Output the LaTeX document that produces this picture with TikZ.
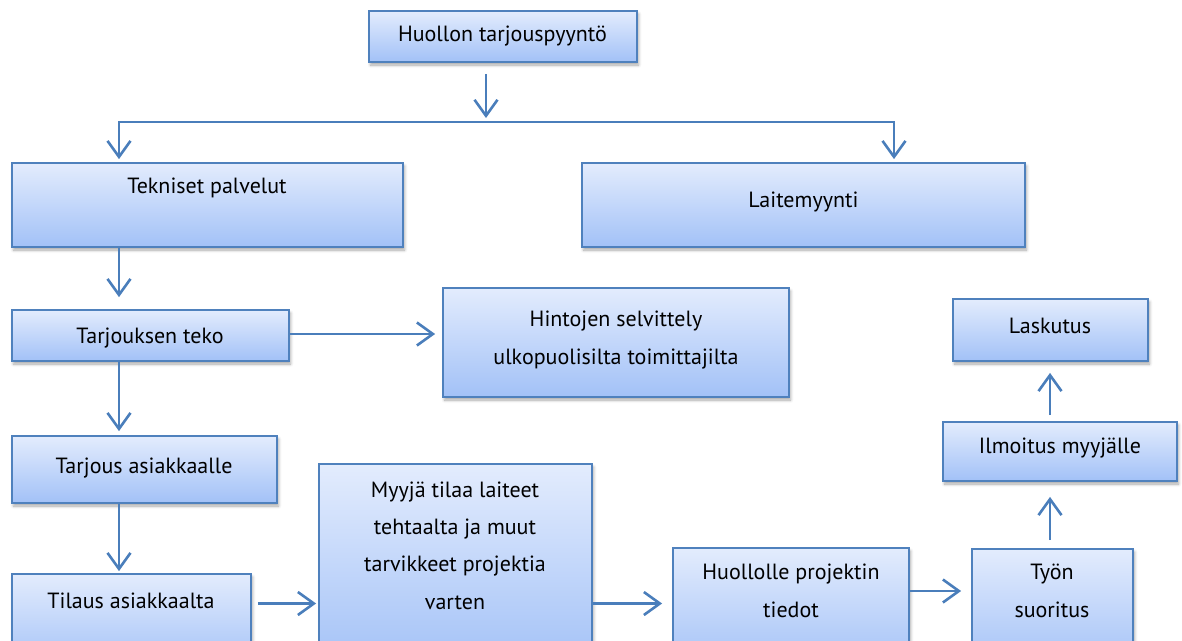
\documentclass[tikz,border=0pt]{standalone}
\usepackage{fontspec}
\setmainfont{PT Sans}
\usetikzlibrary{arrows.meta,shadows.blur}
\definecolor{edge}{HTML}{4F81BD}
\definecolor{flow}{HTML}{4A7EBB}
\definecolor{shadetop}{HTML}{E3ECFD}
\definecolor{shadebot}{HTML}{A2C1F7}
\tikzset{
  box/.style={draw=edge, line width=1.8pt, top color=shadetop, bottom color=shadebot,
    inner sep=0pt,
    blur shadow={shadow xshift=1.5pt, shadow yshift=-3pt, shadow blur steps=6,
      shadow opacity=35, shadow blur radius=3pt}},
  txt/.style={font=\fontsize{22}{37.3}\selectfont, align=center, text=black,
    inner sep=0pt, anchor=base},
  arr/.style={draw=flow, line width=2.6pt, line join=miter,
    -{Straight Barb[length=16pt,width=23pt]}},
  arrboth/.style={draw=flow, line width=2.6pt, line join=miter,
    {Straight Barb[length=16pt,width=23pt]}-{Straight Barb[length=16pt,width=23pt]}},
}
\begin{document}
\begin{tikzpicture}[x=1pt, y=-1pt]
\useasboundingbox (0,0) rectangle (1182,640);
\clip (0,0) rectangle (1182,640);

% boxes
\node[box, minimum width=268, minimum height=51]  (req)  at (503,36.5)   {};
\node[box, minimum width=391, minimum height=84]  (tek)  at (207.5,205)  {};
\node[box, minimum width=443, minimum height=84]  (lai)  at (803.5,205)  {};
\node[box, minimum width=277, minimum height=51]  (tark) at (150.5,335.5) {};
\node[box, minimum width=346, minimum height=109] (hin)  at (616,342.5)  {};
\node[box, minimum width=195, minimum height=62]  (lask) at (1050.5,330) {};
\node[box, minimum width=265, minimum height=67]  (tarj) at (144.5,469.5) {};
\node[box, minimum width=234, minimum height=59]  (ilm)  at (1060,451.5) {};
\node[box, minimum width=273, minimum height=206] (myy)  at (455.5,567)  {};
\node[box, minimum width=239, minimum height=96]  (til)  at (131.5,622)  {};
\node[box, minimum width=236, minimum height=122] (huo)  at (791,609)    {};
\node[box, minimum width=161, minimum height=121] (tyo)  at (1052.5,609.5) {};

% labels (a multi-line label sits on the baseline of its last line)
\node[txt] (reqt)  at (502.5,41)  {Huollon tarjouspyyntö};
\node[txt] (tekt)  at (207,193)   {Tekniset palvelut};
\node[txt] (lait)  at (803.5,207) {Laitemyynti};
\node[txt] (tarkt) at (150,343)   {Tarjouksen teko};
\node[txt] (hint)  at (616,364)   {Hintojen selvittely\\ulkopuolisilta toimittajilta};
\node[txt] (laskt) at (1050,333)  {Laskutus};
\node[txt] (tarjt) at (144,473)   {Tarjous asiakkaalle};
\node[txt] (ilmt)  at (1060,453)  {Ilmoitus myyjälle};
\node[txt] (myyt)  at (455,609)   {Myyjä tilaa laiteet\\tehtaalta ja muut\\tarvikkeet projektia\\varten};
\node[txt] (tilt)  at (131,608)   {Tilaus asiakkaalta};
\node[txt] (huot)  at (791,617)   {Huollolle projektin\\tiedot};
\node[txt] (tyot)  at (1052,617)  {Työn\\suoritus};

% connectors
\coordinate (split) at (486,122);
\coordinate (barL)  at (119,122);
\coordinate (barR)  at (894,122);
\draw[arr, shorten <=11pt, shorten >=4pt] (req.south -| split) -- (split);
\draw[arrboth, shorten <=3pt, shorten >=3pt]
  (barL |- tek.north) -- (barL) -- (barR) -- (barR |- lai.north);
\draw[arr, shorten >=12pt] (tek.south -| barL) -- (tark.north -| barL);
\draw[arr, shorten >=7pt] ([yshift=1.5pt]tark.east) -- ([yshift=1.5pt]tark.east -| hin.west);
\draw[arr, shorten >=4pt] (tark.south -| barL) -- (tarj.north -| barL);
\draw[arr, shorten >=2pt] (tarj.south -| barL) -- (til.north -| barL);
\coordinate (rowA) at (0,603.5);
\draw[arr, shorten <=6pt, shorten >=2pt] (til.east |- rowA) -- (myy.west |- rowA);
\draw[arr, shorten >=10pt] (myy.east |- rowA) -- (huo.west |- rowA);
\coordinate (rowB) at (0,591);
\draw[arr, shorten >=10pt] (huo.east |- rowB) -- (tyo.west |- rowB);
\coordinate (colU) at (1050,0);
\draw[arr, shorten <=8pt, shorten >=15pt] (tyo.north -| colU) -- (ilm.south -| colU);
\draw[arr, shorten <=6pt, shorten >=11pt] (ilm.north -| colU) -- (lask.south -| colU);
\end{tikzpicture}
\end{document}
